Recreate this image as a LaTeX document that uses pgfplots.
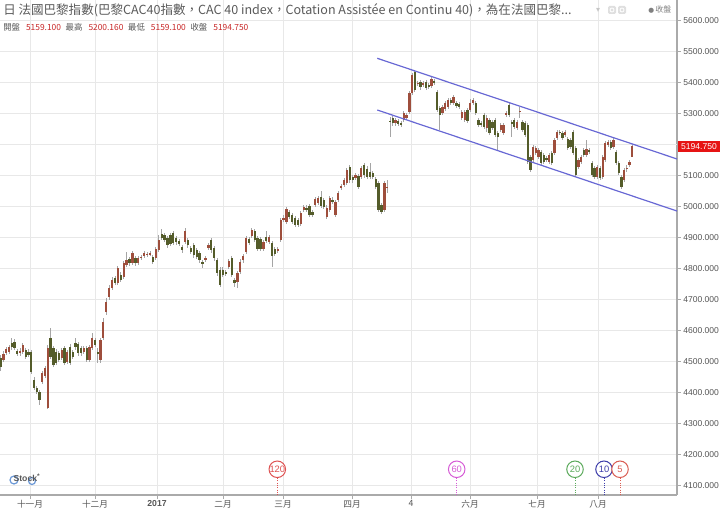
\documentclass[border=0pt]{standalone}
\usepackage{fontspec}
\setmainfont{Liberation Sans}
\newfontfamily\cjk{Noto Sans CJK TC}
\newfontfamily\dejavu{DejaVu Sans}
\usepackage{pgfplots}
\usepackage{pgfplotstable}
\pgfplotsset{compat=1.18}

\definecolor{upc}{RGB}{158,78,60}
\definecolor{dnc}{RGB}{84,92,42}
\definecolor{wickc}{RGB}{165,165,165}
\definecolor{chan}{RGB}{104,104,212}
\definecolor{gridc}{RGB}{232,232,232}
\definecolor{axc}{RGB}{170,170,170}
\definecolor{txt}{RGB}{85,85,85}
\definecolor{ttl}{RGB}{90,90,90}
\definecolor{pricered}{RGB}{200,40,40}
\definecolor{boxred}{RGB}{230,20,20}
\definecolor{mkA}{RGB}{222,82,82}
\definecolor{mkB}{RGB}{214,92,214}
\definecolor{mkC}{RGB}{92,170,92}
\definecolor{mkD}{RGB}{62,62,170}
\definecolor{mkE}{RGB}{218,92,82}

% rising candles: t = position on the time axis, o h l c in index points
\pgfplotstableread{
t o h l c
3.5 4506 4535 4498 4525
6.2 4528 4548 4522 4541
9.0 4531 4553 4525 4547
20.1 4528 4544 4520 4535
22.9 4531 4560 4525 4554
42.3 4435 4470 4428 4464
45.1 4454 4486 4447 4480
47.8 4351 4554 4347 4544
61.7 4512 4545 4505 4538
67.3 4499 4538 4492 4531
83.9 4531 4552 4525 4544
89.4 4506 4555 4498 4547
92.2 4544 4593 4538 4576
100.5 4506 4578 4496 4570
103.3 4576 4640 4570 4628
106.2 4660 4705 4650 4693
109.1 4709 4746 4700 4738
112.1 4738 4772 4730 4764
117.9 4754 4810 4746 4802
123.7 4773 4826 4766 4818
126.6 4812 4854 4804 4828
132.5 4818 4858 4812 4851
138.3 4818 4842 4812 4834
141.2 4835 4845 4828 4838
144.2 4841 4858 4835 4851
147.1 4844 4855 4838 4848
150.0 4845 4858 4840 4851
155.8 4834 4870 4828 4864
158.7 4860 4909 4854 4893
185.0 4886 4931 4880 4922
205.4 4828 4842 4822 4834
208.4 4867 4884 4860 4876
228.8 4806 4832 4798 4825
237.5 4757 4794 4738 4786
240.3 4789 4830 4782 4822
243.2 4828 4848 4820 4841
246.1 4854 4906 4846 4899
251.9 4905 4932 4898 4925
263.4 4864 4893 4856 4886
269.2 4886 4909 4880 4902
277.8 4857 4870 4850 4864
280.7 4893 4964 4886 4957
283.6 4957 4972 4950 4964
286.4 4951 5000 4944 4993
300.8 4944 4986 4937 4980
303.7 4989 5006 4982 4999
315.2 5005 5032 4998 5025
318.1 5012 5035 5005 5028
326.8 4967 5004 4960 4996
329.7 4989 5035 4982 5028
335.4 4973 5022 4966 5015
338.3 5022 5051 5015 5044
341.2 5061 5074 5054 5067
344.1 5070 5093 5064 5086
346.9 5077 5125 5070 5118
355.6 5093 5109 5086 5102
361.3 5096 5132 5089 5125
384.4 4989 5084 4982 5077
387.3 5060 5086 5044 5064
395.5 5270 5287 5262 5280
403.8 5280 5309 5273 5302
406.6 5286 5303 5280 5296
409.4 5306 5374 5299 5367
412.1 5367 5431 5360 5425
417.7 5396 5406 5390 5399
423.2 5393 5406 5386 5399
431.5 5389 5418 5382 5412
442.6 5302 5329 5295 5322
445.3 5315 5341 5308 5334
448.1 5322 5351 5315 5344
453.6 5334 5361 5327 5354
461.9 5286 5313 5279 5306
464.7 5280 5313 5273 5306
470.2 5312 5347 5305 5334
473.0 5334 5351 5327 5344
486.8 5254 5296 5240 5286
500.7 5247 5271 5240 5264
503.4 5238 5271 5231 5264
506.2 5296 5309 5289 5302
517.0 5254 5280 5247 5273
519.7 5306 5322 5286 5309
533.1 5151 5199 5144 5193
535.7 5173 5196 5166 5189
538.4 5160 5190 5153 5183
549.1 5144 5174 5137 5167
554.5 5173 5222 5166 5215
557.2 5222 5248 5215 5241
565.2 5231 5248 5224 5241
578.6 5128 5158 5121 5151
581.2 5144 5167 5137 5160
586.6 5167 5215 5160 5186
597.3 5096 5135 5089 5128
602.7 5096 5167 5089 5160
605.3 5151 5213 5144 5206
608.0 5199 5216 5192 5209
613.4 5192 5222 5185 5215
624.1 5086 5125 5079 5118
626.7 5122 5134 5112 5125
629.4 5135 5151 5128 5144
632.1 5159.1 5200.16 5159.1 5194.75
}\upcandles

% falling candles
\pgfplotstableread{
t o h l c
0.7 4512 4522 4470 4483
11.8 4560 4577 4538 4547
14.6 4564 4572 4537 4544
17.3 4535 4542 4518 4525
25.7 4538 4545 4508 4515
28.4 4531 4540 4515 4522
31.2 4531 4538 4460 4467
34.0 4441 4450 4408 4415
36.7 4415 4422 4395 4402
39.5 4402 4408 4360 4377
50.6 4576 4609 4508 4515
53.4 4544 4552 4482 4489
56.2 4531 4540 4488 4496
58.9 4528 4535 4498 4506
64.5 4544 4550 4490 4496
70.0 4547 4556 4488 4496
72.8 4531 4538 4508 4515
75.6 4560 4576 4538 4547
78.3 4557 4565 4520 4528
81.1 4544 4550 4520 4528
86.7 4544 4552 4498 4506
95.0 4570 4578 4546 4554
97.8 4531 4544 4496 4528
115.0 4770 4778 4746 4754
120.8 4780 4788 4756 4764
129.6 4831 4838 4810 4818
135.4 4834 4842 4810 4818
152.9 4838 4845 4814 4822
161.7 4912 4928 4892 4899
164.6 4909 4916 4886 4893
167.5 4899 4906 4868 4876
170.4 4909 4916 4872 4880
173.3 4915 4922 4875 4883
176.3 4899 4906 4878 4886
179.2 4889 4896 4872 4880
182.1 4870 4876 4852 4860
187.9 4893 4900 4868 4876
190.8 4867 4874 4846 4854
193.8 4876 4884 4836 4844
196.7 4860 4868 4830 4838
199.6 4851 4858 4820 4828
202.5 4822 4828 4802 4818
211.3 4893 4899 4852 4860
214.2 4867 4874 4826 4834
217.1 4828 4835 4778 4786
220.0 4796 4804 4740 4747
222.9 4796 4804 4772 4780
225.9 4789 4796 4778 4786
231.7 4834 4842 4772 4780
234.6 4764 4770 4741 4754
249.0 4896 4903 4876 4883
254.7 4922 4928 4886 4893
257.6 4899 4906 4856 4864
260.5 4896 4902 4856 4864
266.3 4902 4922 4882 4889
272.0 4883 4890 4806 4841
274.9 4864 4870 4840 4847
289.3 4983 4990 4960 4967
292.2 4973 4980 4944 4951
295.1 4964 4970 4934 4941
298.0 4957 4964 4934 4941
306.6 4996 5004 4982 4989
309.5 5002 5010 4966 4973
312.4 4983 4990 4966 4973
321.0 5031 5051 4995 5002
323.9 5022 5028 4992 4999
332.5 5022 5030 5008 5015
349.8 5128 5135 5078 5086
352.7 5096 5102 5078 5086
358.5 5099 5106 5056 5064
364.2 5135 5141 5094 5102
367.1 5122 5130 5088 5096
370.0 5112 5141 5088 5096
372.9 5109 5116 5088 5096
375.8 5089 5096 5056 5064
378.6 5077 5084 4982 4989
381.5 5005 5012 4976 4983
390.0 5277 5290 5225 5273
392.8 5286 5293 5262 5270
398.3 5276 5283 5260 5267
401.1 5270 5277 5257 5264
414.9 5434 5437 5370 5377
420.4 5402 5409 5378 5386
426.0 5402 5409 5376 5383
428.7 5393 5400 5379 5386
434.3 5405 5412 5392 5399
437.0 5370 5377 5305 5312
439.8 5318 5325 5247 5296
450.9 5344 5351 5327 5334
456.4 5334 5341 5318 5325
459.2 5331 5338 5315 5322
467.5 5312 5319 5269 5276
475.8 5334 5341 5295 5302
478.5 5280 5287 5257 5264
481.3 5270 5277 5257 5264
484.1 5296 5303 5250 5257
489.6 5280 5287 5230 5238
492.4 5273 5280 5246 5254
495.1 5280 5287 5224 5231
497.9 5238 5245 5183 5225
509.0 5328 5335 5289 5296
511.7 5273 5280 5225 5270
514.3 5280 5287 5250 5257
522.4 5273 5280 5240 5247
525.0 5270 5277 5224 5231
527.7 5264 5271 5137 5144
530.4 5160 5167 5111 5118
541.1 5177 5184 5134 5141
543.8 5167 5174 5137 5144
546.5 5157 5164 5144 5151
551.8 5173 5180 5134 5141
559.8 5241 5248 5231 5238
562.5 5238 5245 5215 5222
567.9 5218 5225 5182 5189
570.5 5215 5222 5186 5193
573.2 5241 5248 5166 5173
575.9 5189 5196 5095 5102
583.9 5183 5190 5160 5167
589.3 5183 5190 5170 5177
592.0 5141 5148 5095 5102
594.6 5125 5132 5089 5096
600.0 5125 5132 5086 5093
610.7 5209 5216 5182 5189
616.0 5177 5184 5134 5141
618.7 5141 5148 5102 5109
621.4 5096 5102 5056 5064
}\dncandles

\pgfplotsset{
  wick/.style={draw=none, no markers, forget plot,
    error bars/.cd, y dir=both, y explicit, error mark=none,
    error bar style={draw=wickc, line width=0.7pt}},
  body/.style={draw=none, no markers, forget plot,
    error bars/.cd, y dir=both, y explicit, error mark=none,
    error bar style={draw=#1, line width=1.7pt}},
  mamark/.style={only marks, mark=*, mark size=6.2pt,
    mark options={draw=#1, fill=white, line width=0.75pt},
    nodes near coords, point meta=explicit symbolic,
    every node near coord/.append style={anchor=center, inner sep=0pt,
      font=\fontsize{7}{8}\selectfont, text=#1}},
  maline/.style={draw=#1, densely dotted, line width=0.75pt},
}

\begin{document}
\begin{tikzpicture}
\begin{axis}[
  at={(0pt,0pt)}, anchor=south west,
  scale only axis, width=507.75pt, height=371.25pt,
  xmin=0, xmax=677, ymin=4070, ymax=5666.8,
  axis x line*=bottom, axis y line*=right,
  axis line style={-, draw=axc, line width=1.1pt},
  xtick={30,95,157,223,283,352,411,470,537,598},
  xticklabels={十一月,十二月,{\rmfamily\bfseries 2017},二月,三月,四月,4,六月,七月,八月},
  ytick={4100,4200,4300,4400,4500,4600,4700,4800,4900,5000,5100,5300,5400,5500,5600},
  extra y ticks={5200}, extra y tick labels={},
  extra y tick style={grid=major},
  grid=major, major grid style={draw=gridc, line width=0.6pt},
  tick align=outside, major tick length=3pt,
  tick style={draw=axc, line width=0.6pt},
  /pgf/number format/assume math mode=true,
  yticklabel style={font=\fontsize{6.4}{8}\selectfont, text=txt, xshift=-1.8pt,
    /pgf/number format/.cd, fixed, fixed zerofill, precision=3, 1000 sep={}},
  xticklabel style={font=\cjk\fontsize{6.5}{8}\selectfont, text=txt, yshift=2.6pt},
]
% wicks
\addplot[wick] table[x=t, y expr={(\thisrow{h}+\thisrow{l})/2}, y error expr={(\thisrow{h}-\thisrow{l})/2}]{\upcandles};
\addplot[wick] table[x=t, y expr={(\thisrow{h}+\thisrow{l})/2}, y error expr={(\thisrow{h}-\thisrow{l})/2}]{\dncandles};
% bodies
\addplot[body=upc] table[x=t, y expr={(\thisrow{o}+\thisrow{c})/2}, y error expr={max(abs(\thisrow{c}-\thisrow{o})/2,1.6)}]{\upcandles};
\addplot[body=dnc] table[x=t, y expr={(\thisrow{o}+\thisrow{c})/2}, y error expr={max(abs(\thisrow{c}-\thisrow{o})/2,1.6)}]{\dncandles};
% channel
\addplot[chan, line width=0.9pt] coordinates {(377.3,5478.7) (677,5153.9)};
\addplot[chan, line width=0.9pt] coordinates {(377.3,5311.9) (677,4986.0)};
% moving average start markers
\addplot[maline=mkA] coordinates {(277.3,4125) (277.3,4070)};
\addplot[maline=mkB] coordinates {(456.7,4125) (456.7,4070)};
\addplot[maline=mkC] coordinates {(575.0,4125) (575.0,4070)};
\addplot[maline=mkD] coordinates {(604.0,4125) (604.0,4070)};
\addplot[maline=mkE] coordinates {(620.0,4125) (620.0,4070)};
\addplot[mamark=mkA] coordinates {(277.3,4153)[120]};
\addplot[mamark=mkB] coordinates {(456.7,4153)[60]};
\addplot[mamark=mkC] coordinates {(575.0,4153)[20]};
\addplot[mamark=mkD] coordinates {(604.0,4153)[10]};
\addplot[mamark=mkE] coordinates {(620.0,4153)[5]};
\end{axis}

\begin{scope}[x=0.75pt, y=-0.75pt, yshift=371.25pt]
  \node[anchor=west, inner sep=0pt, text=ttl, font=\cjk\fontsize{9.4}{10}\selectfont] at (3,10)
    {日 法國巴黎指數(巴黎CAC40指數，CAC 40 index，Cotation Assistée en Continu 40)，為在法國巴黎...};
  \node[anchor=west, inner sep=0pt, font=\cjk\fontsize{6.3}{7}\selectfont] at (3,27)
    {\textcolor{txt}{開盤}\hspace{4.5pt}\textcolor{pricered}{5159.100}\hspace{3.5pt}\textcolor{txt}{最高}\hspace{4.5pt}\textcolor{pricered}{5200.160}\hspace{3.5pt}\textcolor{txt}{最低}\hspace{4.5pt}\textcolor{pricered}{5159.100}\hspace{3.5pt}\textcolor{txt}{收盤}\hspace{4.5pt}\textcolor{pricered}{5194.750}};
  \node[text=gray!45, font=\dejavu\fontsize{6}{7}\selectfont, inner sep=0pt] at (598,10) {▾};
  \fill[gray!25, rounded corners=1pt] (608,6) rectangle (616,14);
  \fill[gray!25, rounded corners=1pt] (618,6) rectangle (626,14);
  \draw[white, line width=0.6pt] (612,10) circle (2);
  \draw[white, line width=0.6pt] (622,10) circle (2);
  \node[anchor=west, inner sep=0pt, text=gray, font=\cjk\fontsize{6}{7}\selectfont] at (648,10) {{\dejavu\fontsize{5}{6}\selectfont ●}\,收盤};
  % last price label
  \fill[boxred] (677.5,141.5) rectangle (720,152.5);
  \node[text=white, inner sep=0pt, font=\fontsize{6.4}{7}\selectfont] at (699,147) {5194.750};
  % logo
  \draw[cyan!50!blue!60, line width=0.9pt] (14,480) circle (4);
  \draw[cyan!50!blue!60, line width=0.9pt] (32,481) circle (3.5);
  \node[text=gray!70!black, inner sep=0pt, font=\bfseries\fontsize{6.5}{7}\selectfont] at (27,478) {Stock\textsuperscript{\tiny *}};
  \pgfresetboundingbox
  \path[use as bounding box] (0,0) rectangle (720,510);
\end{scope}
\end{tikzpicture}
\end{document}
